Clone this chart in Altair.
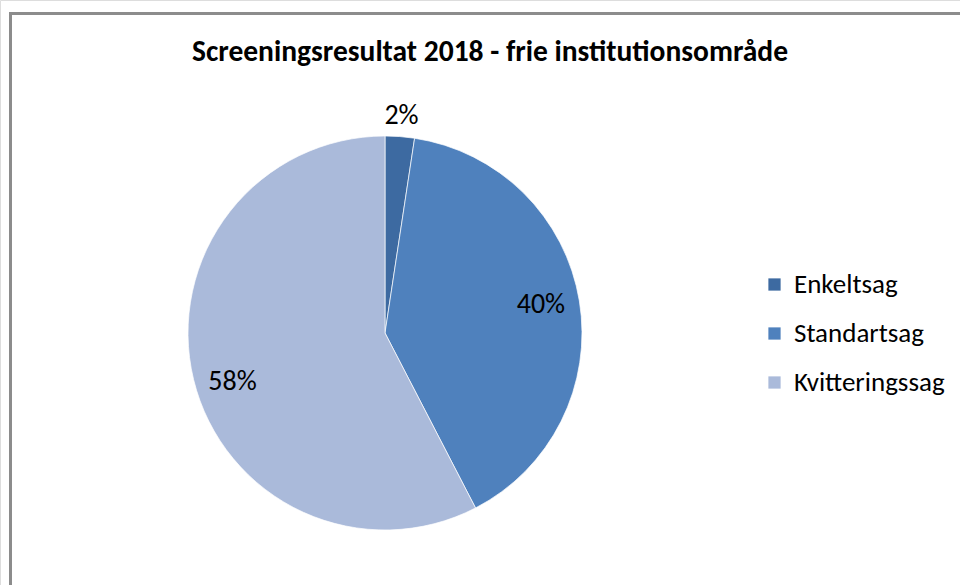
import altair as alt
import pandas as pd

categories = ["Enkeltsag", "Standartsag", "Kvitteringssag"]
values = [2.4, 40.0, 57.6]
labels = ["2%", "40%", "58%"]
order = [0, 1, 2]
colors = ["#3D6AA1", "#4F81BD", "#AABADA"]
title_text = "Screeningsresultat 2018 - frie institutionsområde"

df = pd.DataFrame({"cat": categories, "v": values, "lab": labels, "ord": order})
FONT = "Carlito, Lato"

color_enc = alt.Color(
    "cat:N",
    sort=categories,
    scale=alt.Scale(domain=categories, range=colors),
    legend=alt.Legend(
        title=None,
        orient="none",
        legendX=761,
        legendY=271,
        symbolType="square",
        symbolSize=150,
        symbolStrokeWidth=0,
        labelFontSize=27,
        labelFont=FONT,
        labelColor="#000000",
        labelOffset=6,
        rowPadding=21,
    ),
)

base = alt.Chart(df)

pie = base.mark_arc(radius=197, stroke="white", strokeWidth=0.7).encode(
    theta=alt.Theta("v:Q", stack=True),
    color=color_enc,
    order=alt.Order("ord:Q"),
    x=alt.value(385),
    y=alt.value(333),
)

lab_base = base.transform_joinaggregate(total="sum(v)").transform_window(
    cum="sum(v)", sort=[alt.SortField("ord")]
).transform_calculate(
    mid="(datum.cum - datum.v/2) / datum.total * 2 * PI"
)


def label_layer(idx, radius, dx, dy):
    return lab_base.transform_filter(f"datum.ord == {idx}").mark_text(
        radius=radius, fontSize=28, font=FONT, color="#000000", dx=dx, dy=dy
    ).encode(
        theta=alt.Theta("mid:Q", scale=None),
        text="lab:N",
        x=alt.value(385),
        y=alt.value(333),
    )


lab0 = label_layer(0, 219, 0, 1)
lab1 = label_layer(1, 158, 0, -2)
lab2 = label_layer(2, 158, 1, 12)

title = alt.Chart(pd.DataFrame({"t": [title_text]})).mark_text(
    fontSize=29.5, fontWeight="bold", font=FONT, color="#000000", baseline="middle"
).encode(text="t:N", x=alt.value(490), y=alt.value(52))

frame = alt.Chart(pd.DataFrame({"a": [0]})).mark_rect(
    filled=False, stroke="#8C8C8C", strokeWidth=3
).encode(x=alt.value(10.5), x2=alt.value(990), y=alt.value(13.5), y2=alt.value(620))

chart = alt.layer(frame, pie, lab0, lab1, lab2, title).properties(
    width=960, height=585, padding=0, autosize=alt.AutoSizeParams(type="none")
).configure_view(stroke=None).configure(background="white")

chart.save("out.html", embed_options={"renderer": "svg", "actions": False})
